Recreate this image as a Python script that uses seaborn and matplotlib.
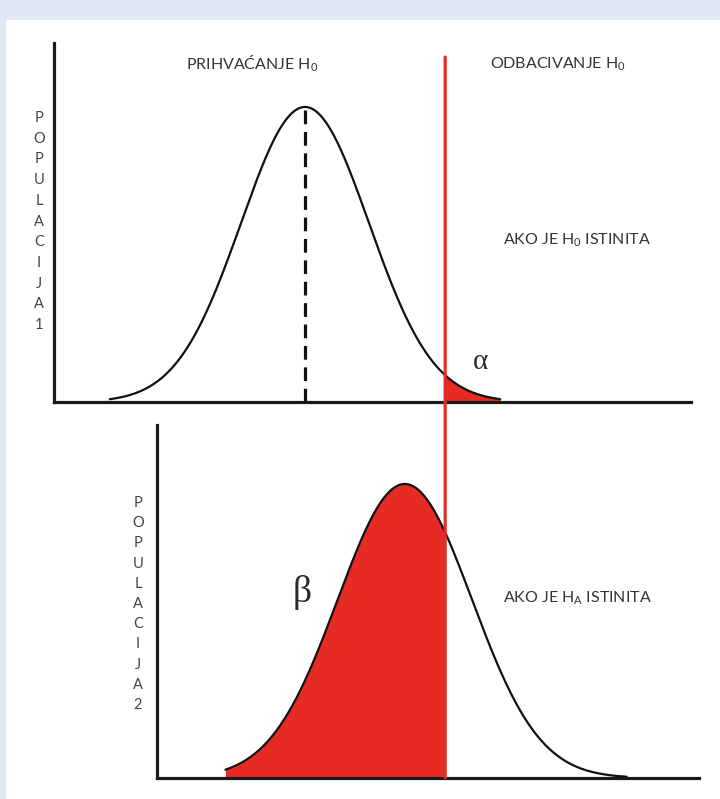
import numpy as np
import pandas as pd
import matplotlib
matplotlib.use('Agg')
import matplotlib.pyplot as plt
import seaborn as sns
from matplotlib.patches import Rectangle, ConnectionPatch

sns.set_theme(style='white')
plt.rcParams['font.family'] = ['Lato', 'DejaVu Sans']
plt.rcParams['mathtext.default'] = 'regular'

# curve parameters (in units of the H0 standard deviation)
means = [0.0, 1.56]
sds = [1.0, 1.05]
tails = [(-3.05, 3.05), (-2.67, 3.3)]   # extent of each curve, in sds from its mean
crit = 2.19

side_labels = ['POPULACIJA1', 'POPULACIJA2']
top_titles = ['PRIHVAĆANJE H$_{0}$', 'ODBACIVANJE H$_{0}$']
cond_labels = ['AKO JE H$_{0}$ ISTINITA', 'AKO JE H$_{A}$ ISTINITA']


def normal_pdf(x, mu, sd):
    return np.exp(-0.5 * ((x - mu) / sd) ** 2) / (sd * np.sqrt(2 * np.pi))


W, H = 720, 799
fig = plt.figure(figsize=(W / 100, H / 100), dpi=100)
fig.patch.set_facecolor('#e1e8f4')
fig.add_artist(Rectangle((6 / W, 0), 1, (H - 20) / H, transform=fig.transFigure,
                         facecolor='white', edgecolor='none', zorder=-1))

ax1 = fig.add_axes([54 / W, (H - 402) / H, (691 - 54) / W, (402 - 43) / H])
ax2 = fig.add_axes([157 / W, (H - 778) / H, (699 - 157) / W, (778 - 425) / H])

curves = []
for mu, sd, (lo, hi) in zip(means, sds, tails):
    x = np.linspace(mu + lo * sd, mu + hi * sd, 600)
    curves.append(pd.DataFrame({'x': x, 'y': normal_pdf(x, mu, sd)}))

red = '#e62b25'

# top panel: H0 true
d1 = curves[0]
sns.lineplot(data=d1, x='x', y='y', ax=ax1, color='#111111', lw=1.6, zorder=3)
m = d1['x'] >= crit
ax1.fill_between(d1['x'][m], 0, d1['y'][m], color=red, lw=0, zorder=2)
ax1.plot([means[0], means[0]], [0, normal_pdf(means[0], means[0], sds[0])],
         color='#111111', lw=2.3, linestyle=(0, (4.3, 2.4)), zorder=3)
ax1.set_xlim((54 - 305) / 64, (691 - 305) / 64)
ax1.set_ylim(0, 0.3989 * 359 / 295)

# bottom panel: HA true
d2 = curves[1]
m = d2['x'] <= crit
ax2.fill_between(d2['x'][m], 0, d2['y'][m], color=red, lw=0, zorder=2)
sns.lineplot(data=d2, x='x', y='y', ax=ax2, color='#111111', lw=1.6, zorder=3)
ax2.set_xlim((157 - 305) / 64, (699 - 305) / 64)
ax2.set_ylim(0, 0.3989 / sds[1] * 353 / 294)

for ax in (ax1, ax2):
    ax.set_facecolor('none')
    ax.set_xticks([])
    ax.set_yticks([])
    ax.set_xlabel('')
    ax.set_ylabel('')
    sns.despine(ax=ax)
    for s in ('left', 'bottom'):
        ax.spines[s].set_color('#1a1a1a')
        ax.spines[s].set_linewidth(2.3)

# critical value line through both panels
con = ConnectionPatch(xyA=(crit, 0.961), coordsA=ax1.get_xaxis_transform(),
                      xyB=(crit, 0), coordsB=ax2.transData,
                      color=red, lw=2.3, zorder=5)
fig.add_artist(con)

# texts
tc = '#333333'
fs = 11.5
fig.text(252 / W, 1 - 64 / H, top_titles[0], ha='center', va='center', fontsize=fs, color=tc)
fig.text(558 / W, 1 - 64 / H, top_titles[1], ha='center', va='center', fontsize=fs, color=tc)
fig.text(577 / W, 1 - 240 / H, cond_labels[0], ha='center', va='center', fontsize=fs, color=tc)
fig.text(577 / W, 1 - 598 / H, cond_labels[1], ha='center', va='center', fontsize=fs, color=tc)
fig.text(480 / W, 1 - 362 / H, 'α', ha='center', va='center', fontsize=21,
         color='#2a2a2a', family='Liberation Serif')
fig.text(302 / W, 1 - 593 / H, 'β', ha='center', va='center', fontsize=27,
         color='#2a2a2a', family='Liberation Serif')

for label, x0, y0, step in [(side_labels[0], 39, 118, 20.7), (side_labels[1], 138, 503, 20.2)]:
    for i, ch in enumerate(label):
        fig.text(x0 / W, 1 - (y0 + i * step) / H, ch, ha='center', va='center',
                 fontsize=10.5, color='#444444')

fig.savefig('out.png', dpi=100, facecolor=fig.get_facecolor())
